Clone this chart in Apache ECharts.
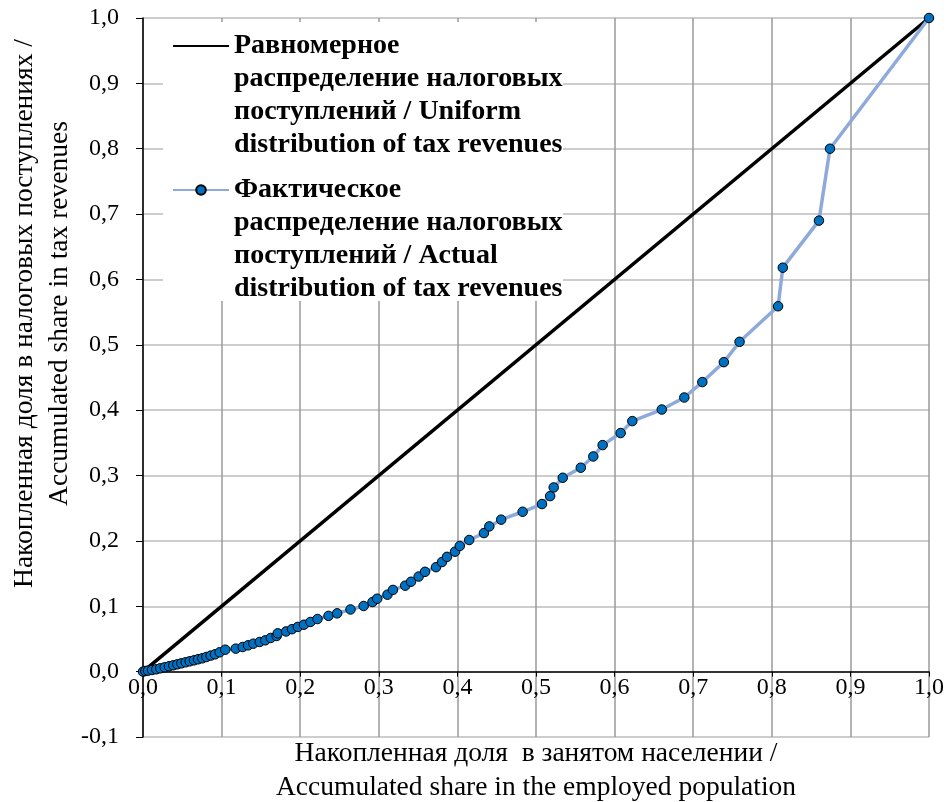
<!DOCTYPE html>
<html>
<head>
<meta charset="utf-8">
<script src="https://cdn.jsdelivr.net/npm/echarts@6/dist/echarts.min.js"></script>
<style>html,body{margin:0;padding:0;background:#fff;}#c{width:948px;height:802px;}</style>
</head>
<body>
<div id="c"></div>
<script>
// Accumulated share in the employed population (x)
const employedShare = [0.000,0.003,0.0064,0.0115,0.0169,0.022,0.0276,0.0331,0.0386,0.0437,0.0488,0.0543,0.0594,0.0649,0.070,0.0755,0.0806,0.0861,0.0916,0.0975,0.1047,0.118,0.1268,0.1336,0.1404,0.1485,0.1556,0.1625,0.170,0.1714,0.182,0.1896,0.197,0.2048,0.213,0.222,0.236,0.247,0.264,0.2807,0.292,0.298,0.311,0.318,0.3336,0.341,0.3507,0.3588,0.3728,0.3804,0.3868,0.397,0.403,0.415,0.4338,0.4406,0.4557,0.483,0.5076,0.518,0.5225,0.534,0.557,0.5729,0.5848,0.6077,0.6225,0.660,0.6887,0.7116,0.739,0.759,0.808,0.814,0.860,0.874,1.000];
// Accumulated share in tax revenues (y)
const taxShare = [0.000,0.001,0.0015,0.0026,0.0036,0.0051,0.0066,0.0082,0.0097,0.0112,0.0127,0.0143,0.0158,0.0173,0.0189,0.0204,0.0224,0.0245,0.0265,0.0296,0.0336,0.0352,0.0377,0.0402,0.0428,0.0454,0.0479,0.0515,0.0545,0.0586,0.0615,0.065,0.0684,0.0718,0.076,0.0805,0.0853,0.0892,0.0951,0.1004,0.1065,0.1116,0.1177,0.125,0.1315,0.1375,0.1455,0.1527,0.1598,0.1677,0.1756,0.1835,0.1922,0.2014,0.212,0.2222,0.2325,0.2446,0.2564,0.2686,0.2818,0.2966,0.312,0.3292,0.3466,0.365,0.3833,0.401,0.4194,0.443,0.4735,0.5046,0.559,0.618,0.690,0.800,1.000];
// Uniform distribution line
const uniformX = [0, 1];
const uniformY = [0, 1];
// Axis ticks
const axisMin = { x: 0, y: -0.1 };
const axisMax = { x: 1, y: 1 };
const tickStep = 0.1;

const seriesNames = [
  'Равномерное\nраспределение налоговых\nпоступлений / Uniform\ndistribution of tax revenues',
  'Фактическое\nраспределение налоговых\nпоступлений / Actual\ndistribution of tax revenues'
];
const xTitle = 'Накопленная доля  в занятом населении /\nAccumulated share in the employed population';
const yTitle = 'Накопленная доля в налоговых поступлениях /\nAccumulated share in tax revenues';

const fmt = v => v.toFixed(1).replace('.', ',');
const serif = '"Liberation Serif", "Times New Roman", serif';

const chart = echarts.init(document.getElementById('c'));
chart.setOption({
  animation: false,
  backgroundColor: '#fff',
  grid: { left: 143, right: 19, top: 18, bottom: 65, outerBoundsMode: 'none', containLabel: false },
  graphic: [{
    type: 'rect', z: 1,
    shape: { x: 163, y: 22, width: 400, height: 279 },
    style: { fill: '#fff' }
  }],
  legend: {
    orient: 'vertical',
    left: 172, top: -69.5,
    padding: 0,
    itemGap: -87,
    itemWidth: 56, itemHeight: 12,
    formatter: name => '\n\n\n' + name,
    textStyle: {
      fontFamily: serif, fontWeight: 'bold', fontSize: 28, color: '#000',
      lineHeight: 33
    },
    data: [
      { name: seriesNames[0], itemStyle: { color: 'rgba(0,0,0,0)', borderWidth: 0 } },
      { name: seriesNames[1] }
    ]
  },
  xAxis: {
    type: 'value', min: axisMin.x, max: axisMax.x, interval: tickStep,
    axisLine: { onZero: true, lineStyle: { color: '#000', width: 1.5 } },
    axisTick: { show: true, inside: false, length: 5, lineStyle: { color: '#000' } },
    axisLabel: { formatter: fmt, fontFamily: serif, fontSize: 24, color: '#000', margin: -61 },
    splitLine: { show: true, lineStyle: { color: '#9a9a9a', width: 1.5 } },
    name: xTitle, nameLocation: 'middle', nameGap: 0, nameMoveOverlap: false,
    nameTextStyle: { fontFamily: serif, fontSize: 27.5, color: '#000', lineHeight: 34 }
  },
  yAxis: {
    type: 'value', min: axisMin.y, max: axisMax.y, interval: tickStep,
    axisLine: { show: true, onZero: false, lineStyle: { color: '#000', width: 1.5 } },
    axisTick: { show: true, inside: false, length: 7, lineStyle: { color: '#000' } },
    axisLabel: { formatter: fmt, fontFamily: serif, fontSize: 24, color: '#000', margin: 24 },
    splitLine: { show: true, lineStyle: { color: '#bdbdbd', width: 1.5 } },
    name: yTitle, nameLocation: 'middle', nameGap: 65.5, nameMoveOverlap: false,
    nameTextStyle: { fontFamily: serif, fontSize: 27.5, color: '#000', lineHeight: 35, padding: [0, 0, 0, 128] }
  },
  series: [
    {
      name: seriesNames[0], type: 'line', z: 3,
      data: uniformX.map((x, i) => [x, uniformY[i]]),
      symbol: 'none',
      lineStyle: { color: '#000', width: 3.5 },
      itemStyle: { color: '#000' }
    },
    {
      name: seriesNames[1], type: 'line', z: 4,
      data: employedShare.map((x, i) => [x, taxShare[i]]),
      symbol: 'circle', symbolSize: 9.5, showAllSymbol: true,
      lineStyle: { color: '#8eaadb', width: 3.5 },
      itemStyle: { color: '#0070c0', borderColor: '#000', borderWidth: 1 }
    }
  ]
});
</script>
</body>
</html>
